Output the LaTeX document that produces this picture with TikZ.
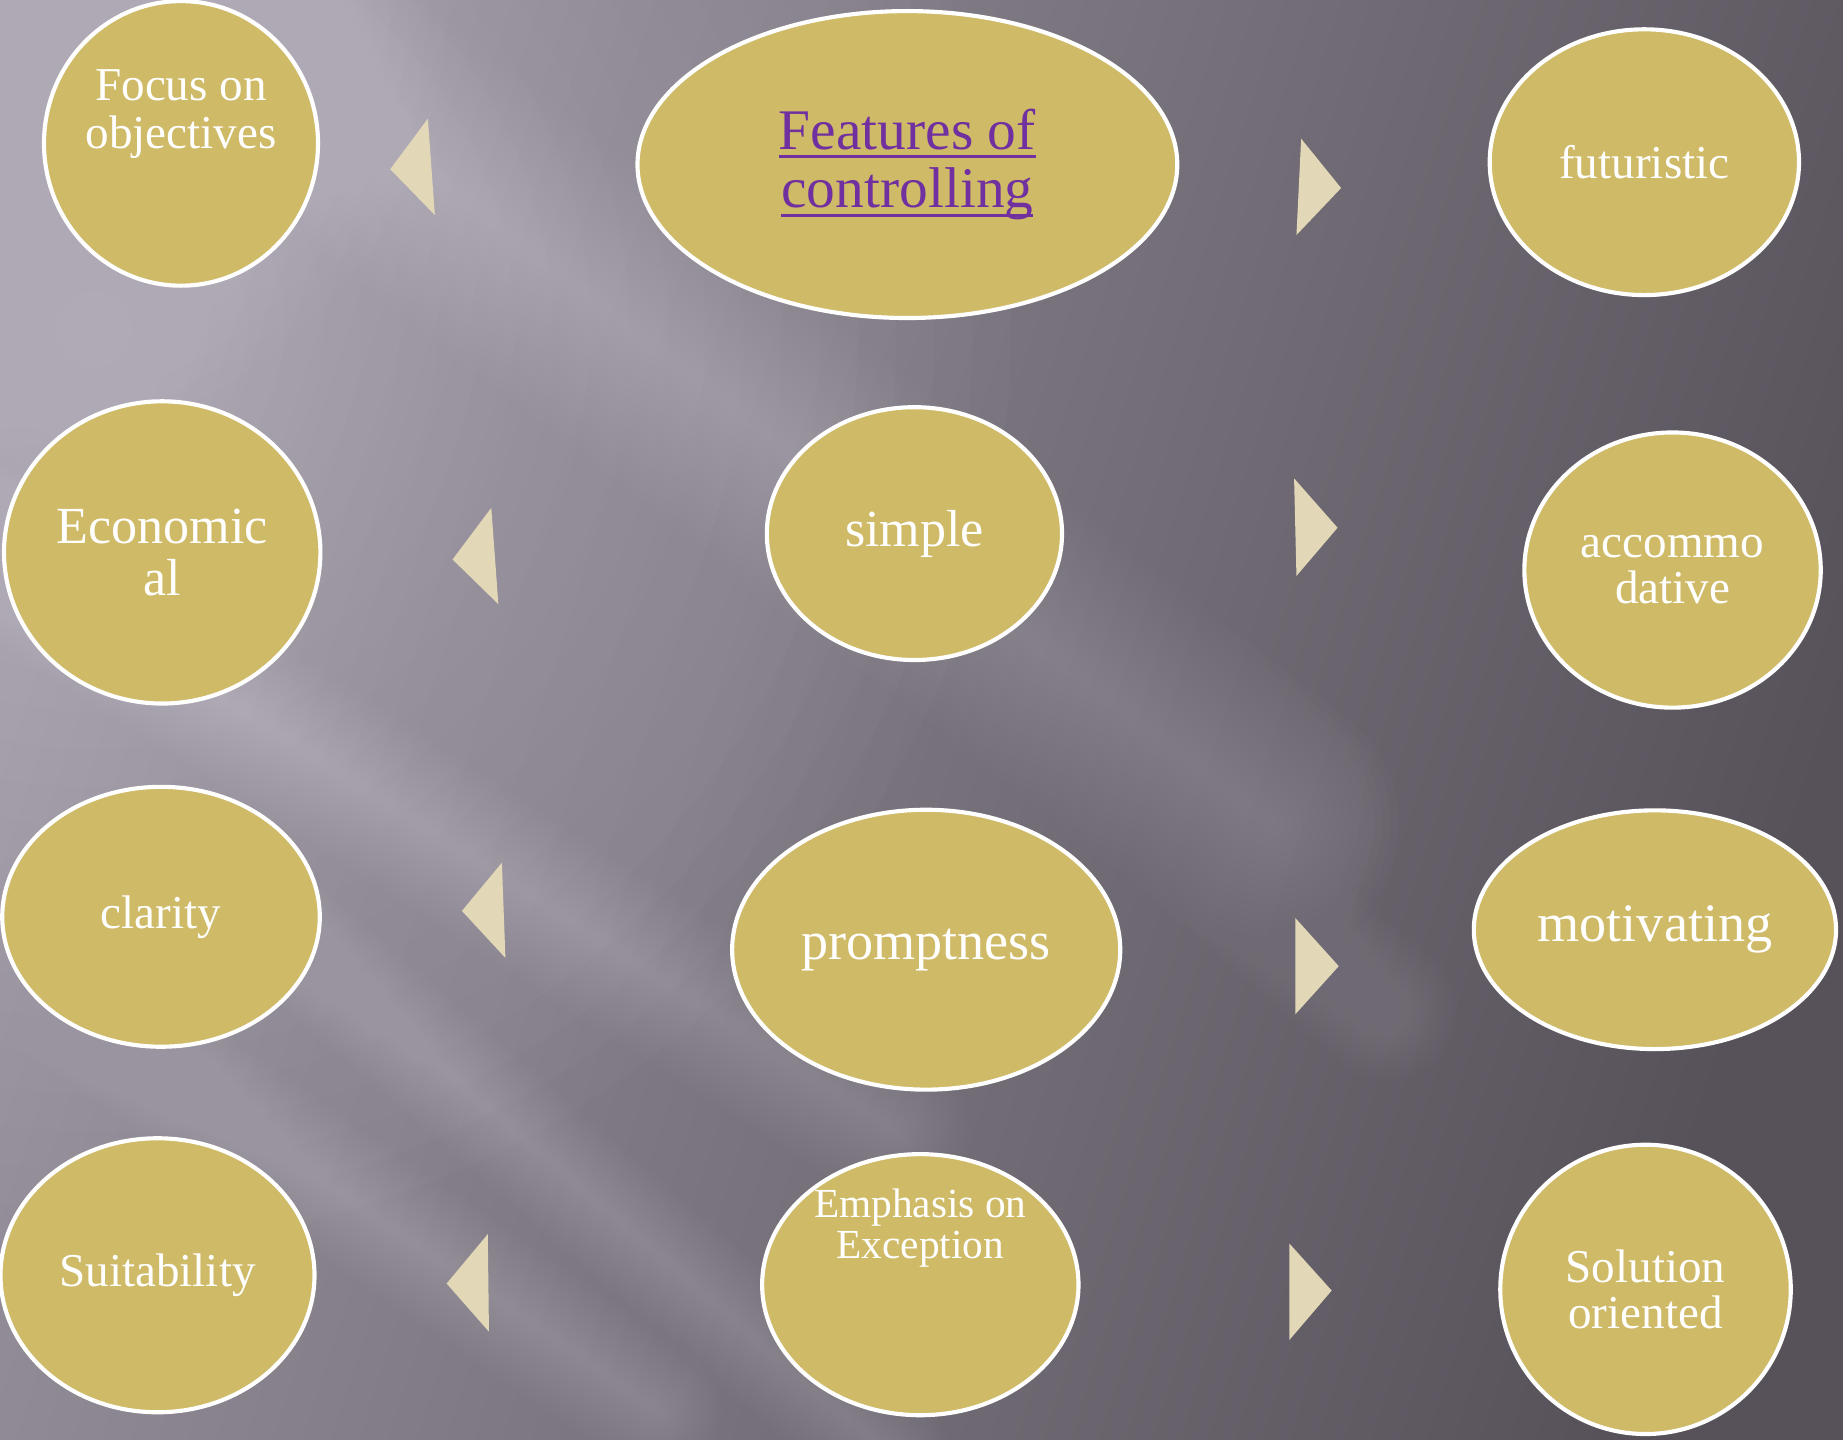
\documentclass[tikz,border=0pt]{standalone}
\usepackage{fontspec}
\setmainfont{Liberation Serif}
\usetikzlibrary{shapes.geometric}
\definecolor{gold}{HTML}{CFBA67}
\definecolor{trifill}{HTML}{E2D8B7}
\definecolor{purp}{HTML}{7030A0}
\definecolor{bgL}{HTML}{97929D}
\definecolor{bgM}{HTML}{716C77}
\definecolor{bgR}{HTML}{57525A}
\definecolor{lite}{HTML}{EEE8F4}
\newcommand\myul[1]{\setbox0\hbox{#1}\rlap{\rule[-2.2pt]{\wd0}{0.7pt}}\box0}
% soft diagonal light streak: x1,y1,x2,y2,halfwidth,opacity per layer
\newcommand\streak[6]{%
  \foreach \k in {1,...,16}{%
    \pgfmathsetmacro\lw{#5/16*\k*0.02}%
    \draw[lite, opacity=#6, line width=\lw cm, line cap=round] (#1,#2) -- (#3,#4);}}
\newcommand\glow[4]{% x,y,maxradius,opacity
  \foreach \k in {1,...,24}{%
    \pgfmathsetmacro\rr{#3/24*\k}%
    \fill[lite, opacity=#4] (#1,#2) circle (\rr);}}
\begin{document}
\begin{tikzpicture}[x=0.01cm,y=-0.01cm,
  ell/.style={ellipse, draw=white, line width=1pt, fill=gold, text=white, align=center, inner sep=0pt},
  txt/.style={text=white, align=center, inner sep=0pt},
  arrowtri/.style={fill=trifill},
  fsmall/.style={font=\fontsize{11.4}{11.4}\selectfont},
  fmid/.style={font=\fontsize{12.6}{12.6}\selectfont},
  fbig/.style={font=\fontsize{13.1}{13.1}\selectfont}]
\useasboundingbox (0,0) rectangle (1568,1225);
\begin{scope}
\clip (0,0) rectangle (1568,1225);
\shade[shading=axis, top color=bgL, middle color=bgM, bottom color=bgR, shading angle=72] (0,0) rectangle (1568,1225);
\glow{80}{280}{780}{0.02}
\glow{0}{0}{380}{0.014}
\streak{100}{-60}{1080}{700}{110}{0.016}
\streak{-80}{420}{760}{960}{65}{0.014}
\streak{-80}{760}{560}{1200}{55}{0.013}
\streak{250}{800}{760}{1240}{50}{0.012}
\streak{880}{600}{1180}{860}{60}{0.007}
\end{scope}

% triangles
\fill[arrowtri] (332,144) -- (364,101) -- (370,183) -- cycle;
\fill[arrowtri] (385,476) -- (418,432) -- (424,514) -- cycle;
\fill[arrowtri] (393,775) -- (427,734) -- (430,815) -- cycle;
\fill[arrowtri] (380,1092) -- (415,1050) -- (416,1133) -- cycle;
\fill[arrowtri] (1107,118) -- (1141,160) -- (1103,200) -- cycle;
\fill[arrowtri] (1101,407) -- (1138,449) -- (1103,490) -- cycle;
\fill[arrowtri] (1102,781) -- (1139,822) -- (1102,863) -- cycle;
\fill[arrowtri] (1097,1058) -- (1133,1098) -- (1097,1140) -- cycle;

% ellipses
\node[ell, minimum width=2.33cm, minimum height=2.42cm] (focus) at (154,122) {};
\node[txt, font=\fontsize{11.4}{11.7}\selectfont] (focust) at (154,97) {Focus on\\objectives};
\node[ell, minimum width=4.59cm, minimum height=2.61cm, text=purp, font=\fontsize{13.9}{14.2}\selectfont] (feat) at (772,140) {\myul{Features of}\\\myul{controlling}};
\node[ell, fsmall, minimum width=2.63cm, minimum height=2.26cm] (futur) at (1399,138) {futuristic};
\node[ell, minimum width=2.69cm, minimum height=2.57cm, font=\fontsize{12.6}{12.5}\selectfont] (econ) at (138,470) {Economic\\al};
\node[ell, fmid, minimum width=2.51cm, minimum height=2.15cm] (simple) at (778,454) {simple};
\node[ell, minimum width=2.52cm, minimum height=2.34cm, font=\fontsize{11.4}{11.1}\selectfont] (accom) at (1423,485) {accommo\\dative};
\node[ell, fsmall, minimum width=2.70cm, minimum height=2.21cm] (clar) at (137,780) {clarity};
\node[ell, fbig, minimum width=3.30cm, minimum height=2.38cm] (prompt) at (788,808) {promptness};
\node[ell, fbig, minimum width=3.08cm, minimum height=2.03cm] (motiv) at (1408,791) {motivating};
\node[ell, fsmall, minimum width=2.67cm, minimum height=2.33cm] (suit) at (134,1085) {Suitability};
\node[ell, minimum width=2.69cm, minimum height=2.22cm] (emph) at (783,1093) {};
\node[txt, font=\fontsize{10}{10}\selectfont] (empht) at (783,1045) {Emphasis on\\Exception};
\node[ell, minimum width=2.47cm, minimum height=2.46cm, font=\fontsize{11.4}{11.1}\selectfont] (solu) at (1400,1097) {Solution\\oriented};
\end{tikzpicture}
\end{document}
